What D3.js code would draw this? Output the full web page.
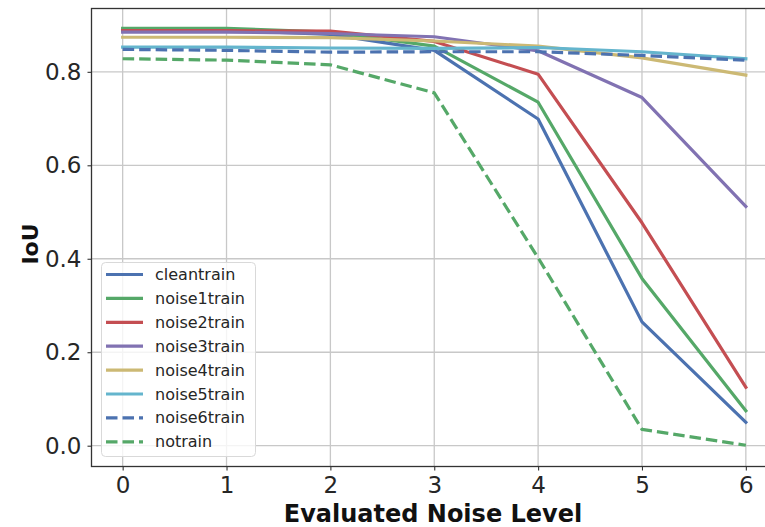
<!DOCTYPE html>
<html><head><meta charset="utf-8">
<script src="https://cdn.jsdelivr.net/npm/d3@7"></script>
<style>body{margin:0;background:#fff}svg{display:block}text{font-family:"DejaVu Sans",sans-serif}</style>
</head><body><svg id="c" width="765" height="527"></svg>
<script>
const levels = [0,1,2,3,4,5,6];
const xTicks = [0,1,2,3,4,5,6];
const yTicks = [0.0,0.2,0.4,0.6,0.8];
const seriesNames = ["cleantrain","noise1train","noise2train","noise3train","noise4train","noise5train","noise6train","notrain"];
const cleantrain  = [0.889,0.889,0.880,0.846,0.699,0.265,0.050];
const noise1train = [0.893,0.893,0.885,0.855,0.735,0.358,0.075];
const noise2train = [0.888,0.888,0.887,0.865,0.795,0.477,0.125];
const noise3train = [0.885,0.885,0.882,0.875,0.845,0.745,0.512];
const noise4train = [0.874,0.874,0.873,0.866,0.855,0.830,0.793];
const noise5train = [0.853,0.853,0.851,0.850,0.852,0.843,0.828];
const noise6train = [0.848,0.846,0.842,0.843,0.843,0.835,0.825];
const notrain     = [0.828,0.825,0.815,0.755,0.402,0.035,0.001];
const seriesValues = [cleantrain,noise1train,noise2train,noise3train,noise4train,noise5train,noise6train,notrain];
const colors = ["#4C72B0","#55A868","#C44E52","#8172B2","#CCB974","#64B5CD","#4C72B0","#55A868"];
const dashed = [false,false,false,false,false,false,true,true];

const svg = d3.select("#c");
const L=91.5, R=777, T=8.5, B=466.5;
const x = d3.scaleLinear().domain([-0.3,6.3]).range([L,R]);
const y = d3.scaleLinear().domain([-0.0445,0.9355]).range([B,T]);

const g = svg.append("g");
g.selectAll(".gx").data(xTicks).join("line").attr("x1",d=>x(d)).attr("x2",d=>x(d)).attr("y1",T).attr("y2",B)
 .attr("stroke","#c8c8c8").attr("stroke-width",1.3);
g.selectAll(".gy").data(yTicks).join("line").attr("y1",d=>y(d)).attr("y2",d=>y(d)).attr("x1",L).attr("x2",R)
 .attr("stroke","#c8c8c8").attr("stroke-width",1.3);

const line = d3.line().x((d,i)=>x(levels[i])).y(d=>y(d));
seriesValues.forEach((vals,k)=>{
  g.append("path").datum(vals).attr("d",line).attr("fill","none")
   .attr("stroke",colors[k]).attr("stroke-width",3.2)
   .attr("stroke-dasharray",dashed[k]?"11.5,5":null)
   .attr("stroke-linecap",dashed[k]?"butt":"square").attr("stroke-linejoin","round");
});

svg.append("rect").attr("x",L).attr("y",T).attr("width",R-L).attr("height",B-T)
 .attr("fill","none").attr("stroke","#333").attr("stroke-width",1.3);

const xa = svg.append("g").attr("transform",`translate(0,${B})`)
 .call(d3.axisBottom(x).tickValues(xTicks).tickFormat(d3.format("d")).tickSize(4).tickPadding(6));
const ya = svg.append("g").attr("transform",`translate(${L},0)`)
 .call(d3.axisLeft(y).tickValues(yTicks).tickFormat(d3.format(".1f")).tickSize(4).tickPadding(6));
[xa,ya].forEach(a=>{a.select(".domain").remove();
 a.selectAll("line").attr("stroke","#333").attr("stroke-width",1.1);
 a.selectAll("text").attr("font-family","DejaVu Sans").attr("font-size",23).attr("fill","#262626");});

svg.append("text").attr("x",433).attr("y",522).attr("text-anchor","middle")
 .attr("font-size",24).attr("font-weight","bold").attr("fill","#111").text("Evaluated Noise Level");
svg.append("text").attr("transform","translate(30,244) rotate(-90)").attr("text-anchor","middle")
 .attr("dominant-baseline","central")
 .attr("font-size",22).attr("font-weight","bold").attr("fill","#111").text("IoU");

const lg = svg.append("g");
lg.append("rect").attr("x",101.5).attr("y",262.5).attr("width",154).attr("height",194).attr("rx",4)
 .attr("fill","white").attr("fill-opacity",0.8).attr("stroke","#d9d9d9").attr("stroke-width",1);
seriesNames.forEach((n,k)=>{
  const yy = 274.5 + k*23.9;
  lg.append("line").attr("x1",106).attr("x2",143).attr("y1",yy).attr("y2",yy)
   .attr("stroke",colors[k]).attr("stroke-width",3.2).attr("stroke-dasharray",dashed[k]?"11.5,5":null);
  lg.append("text").attr("x",155).attr("y",yy).attr("dominant-baseline","central")
   .attr("font-size",16).attr("fill","#262626").text(n);
});
</script></body></html>
